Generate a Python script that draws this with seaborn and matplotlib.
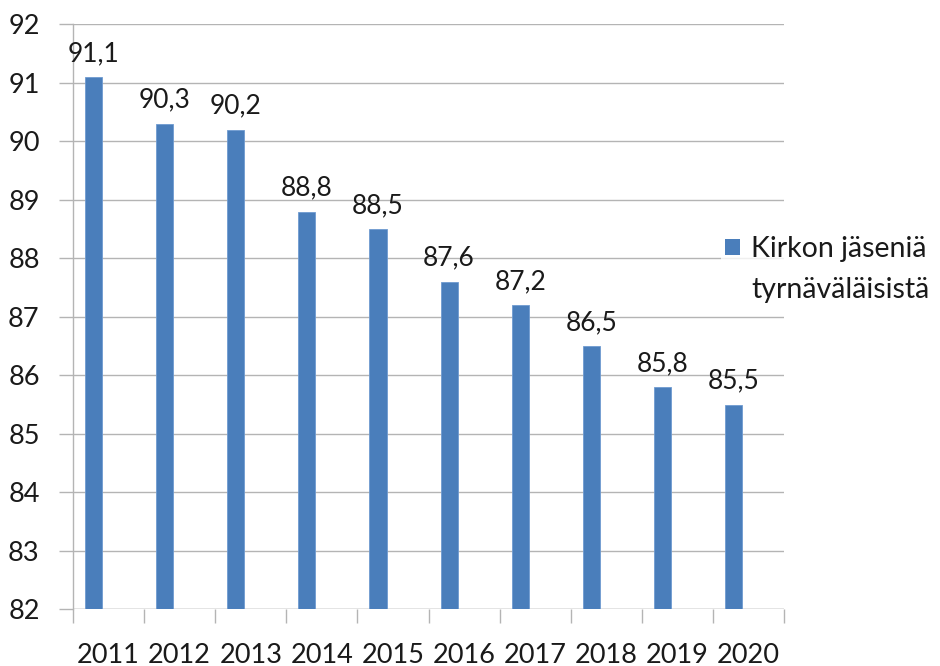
import matplotlib
matplotlib.use("Agg")
import matplotlib.pyplot as plt
import seaborn as sns
import pandas as pd
from matplotlib.patches import Patch

years = ["2011", "2012", "2013", "2014", "2015", "2016", "2017", "2018", "2019", "2020"]
values = [91.1, 90.3, 90.2, 88.8, 88.5, 87.6, 87.2, 86.5, 85.8, 85.5]
series_label = "Kirkon jäseniä"
series_label2 = "tyrnäväläisistä"
y_ticks = [82, 83, 84, 85, 86, 87, 88, 89, 90, 91, 92]

sns.set_style("white")
plt.rcParams["font.family"] = ["Lato", "DejaVu Sans"]
text_color = "#1a1a1a"
grid_color = "#b4b4b4"
bar_color = "#4a7ebb"

df = pd.DataFrame({"year": years, "value": values})

fig = plt.figure(figsize=(9.4, 6.66), dpi=100)
ax = fig.add_axes([73 / 940, 1 - 609.3 / 666, (784 - 73) / 940, (609.3 - 24.3) / 666])

sns.barplot(data=df, x="year", y="value", color=bar_color, width=0.24, ax=ax,
            saturation=1, errorbar=None, zorder=3)

# Shift bars to the left within their category slot, like the original chart
for p in ax.patches:
    p.set_x(p.get_x() - 0.21)
    p.set_edgecolor("#6f9bd1")
    p.set_linewidth(0.6)

ax.set_ylim(82, 92)
ax.set_xlim(-0.5, len(years) - 0.5)
ax.set_yticks(y_ticks)
ax.set_yticklabels([str(t) for t in y_ticks])
ax.set_xlabel("")
ax.set_ylabel("")

ax.yaxis.grid(True, color=grid_color, linewidth=1, zorder=0)
ax.set_axisbelow(True)

for s in ["top", "right", "bottom"]:
    ax.spines[s].set_visible(False)
ax.spines["left"].set_color(grid_color)
ax.spines["left"].set_linewidth(1)

ax.tick_params(axis="y", length=10, width=1, color=grid_color, pad=14,
               labelsize=19.5, labelcolor=text_color, direction="out", left=True)
ax.set_xticks(range(len(years)))
ax.set_xticks([i - 0.5 for i in range(len(years) + 1)], minor=True)
ax.tick_params(axis="x", which="major", length=0, pad=24, labelsize=19.5, labelcolor=text_color)
ax.tick_params(axis="x", which="minor", length=10, width=1, color=grid_color, direction="out", bottom=True)
ax.axhline(82, color=grid_color, linewidth=1, zorder=1)

labels = [f"{v:.1f}".replace(".", ",") for v in values]
ax.bar_label(ax.containers[0], labels=labels, padding=8, fontsize=19, color=text_color)

handles = [Patch(facecolor=bar_color, edgecolor="none"), Patch(facecolor="none", edgecolor="none")]
leg = fig.legend(handles, [series_label, series_label2], loc="upper left",
                 bbox_to_anchor=(721 / 940, 1 - 232 / 666), frameon=True, fontsize=20.5,
                 handlelength=0.52, handleheight=0.52, handletextpad=0.4,
                 labelspacing=0.5, borderpad=0.15, borderaxespad=0)
leg.get_frame().set_facecolor("white")
leg.get_frame().set_edgecolor("none")
for t in leg.get_texts():
    t.set_color(text_color)

fig.savefig("out.png", dpi=100)
